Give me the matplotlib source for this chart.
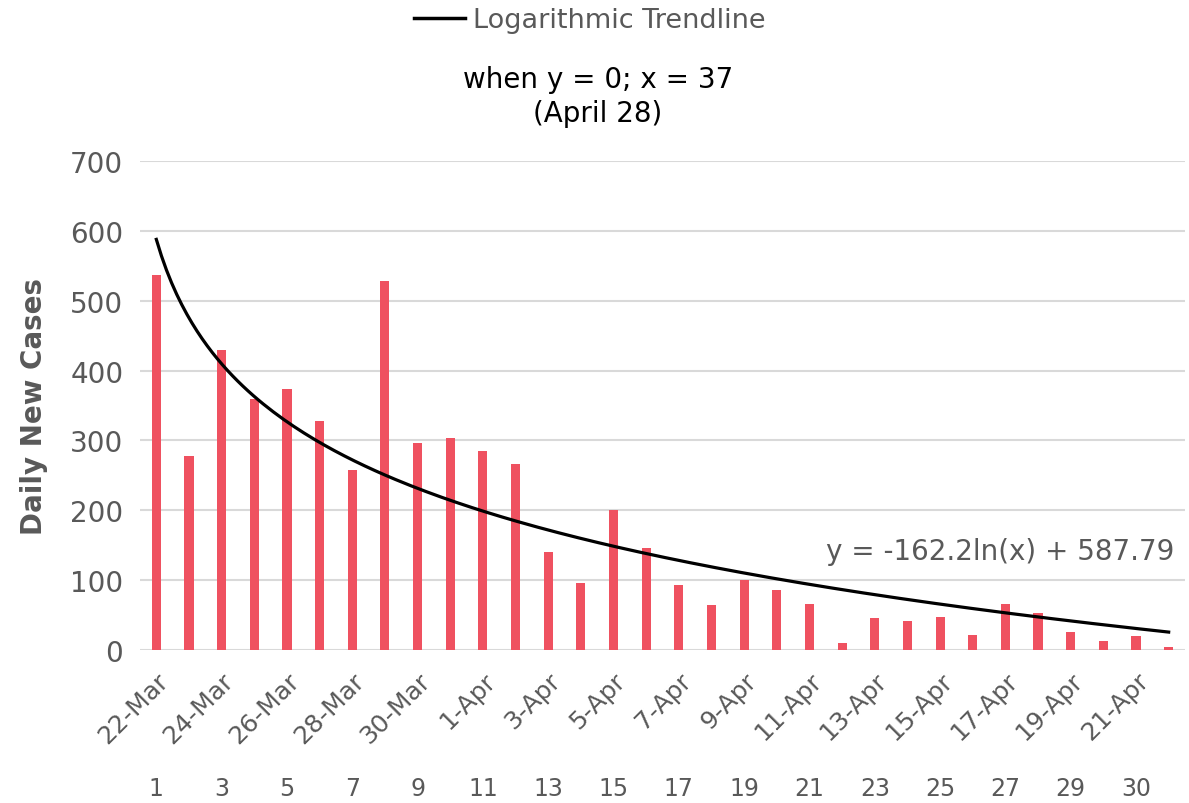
import numpy as np
import matplotlib.pyplot as plt
from matplotlib.lines import Line2D

plt.rcParams['font.family'] = ['DejaVu Sans']

# daily new cases, 22-Mar .. 22-Apr
cases = [537, 278, 430, 359, 373, 328, 257, 528, 297, 303, 285, 266, 140, 96,
         200, 146, 93, 64, 100, 86, 66, 10, 46, 41, 47, 21, 66, 53, 26, 13, 20, 4]
day_idx = np.arange(1, len(cases) + 1)

date_labels = ['22-Mar', '24-Mar', '26-Mar', '28-Mar', '30-Mar', '1-Apr', '3-Apr',
               '5-Apr', '7-Apr', '9-Apr', '11-Apr', '13-Apr', '15-Apr', '17-Apr',
               '19-Apr', '21-Apr']
date_pos = np.arange(1, 32, 2)
num_labels = ['1', '3', '5', '7', '9', '11', '13', '15', '17', '19', '21', '23',
              '25', '27', '29', '30']

# trendline coefficients as shown on the chart
a_coef = -162.2
b_coef = 587.79

gray = '#595959'
red = '#EF5160'

fig = plt.figure(figsize=(11.89, 8.04), dpi=100)
ax = fig.add_axes([140/1189, 1 - 651/804, 1045/1189, 489/804])

ax.bar(day_idx, cases, width=0.28, color=red, zorder=2)

xt = np.linspace(1, len(cases), 200)
ax.plot(xt, a_coef*np.log(xt) + b_coef, color='black', lw=2.3, zorder=3)

ax.set_xlim(0.5, len(cases) + 0.5)
ax.set_ylim(0, 700)
ax.set_yticks(range(0, 701, 100))
ax.yaxis.grid(True, color='#D9D9D9', lw=1.5, zorder=0)
ax.set_axisbelow(True)
for s in ax.spines.values():
    s.set_visible(False)
ax.tick_params(axis='both', length=0, colors=gray)
ax.tick_params(axis='y', labelsize=20, pad=12)

ax.set_xticks(date_pos)
ax.set_xticklabels(date_labels, rotation=45, ha='right', rotation_mode='anchor',
                   fontsize=18, color=gray)
ax.tick_params(axis='x', pad=13)

for p, t in zip(date_pos, num_labels):
    ax.text(p, -0.283, t, transform=ax.get_xaxis_transform(), ha='center',
            va='center', fontsize=17, color=gray)

ax.set_ylabel('Daily New Cases', fontsize=20, fontweight='bold', color=gray,
              labelpad=16)

ax.text(0.99, 0.203, 'y = -162.2ln(x) + 587.79', transform=ax.transAxes,
        ha='right', va='center', fontsize=20, color=gray)

fig.text(598/1189, 1 - 97/804, 'when y = 0; x = 37\n(April 28)', ha='center',
         va='center', fontsize=20, color='black', linespacing=1.25)

leg = fig.legend([Line2D([], [], color='black', lw=2.5)], ['Logarithmic Trendline'],
                 loc='center', bbox_to_anchor=(590/1189, 1 - 21/804), frameon=False,
                 fontsize=19.5, handlelength=1.9, handletextpad=0.3)
for t in leg.get_texts():
    t.set_color(gray)

fig.savefig('out.png', dpi=100)
